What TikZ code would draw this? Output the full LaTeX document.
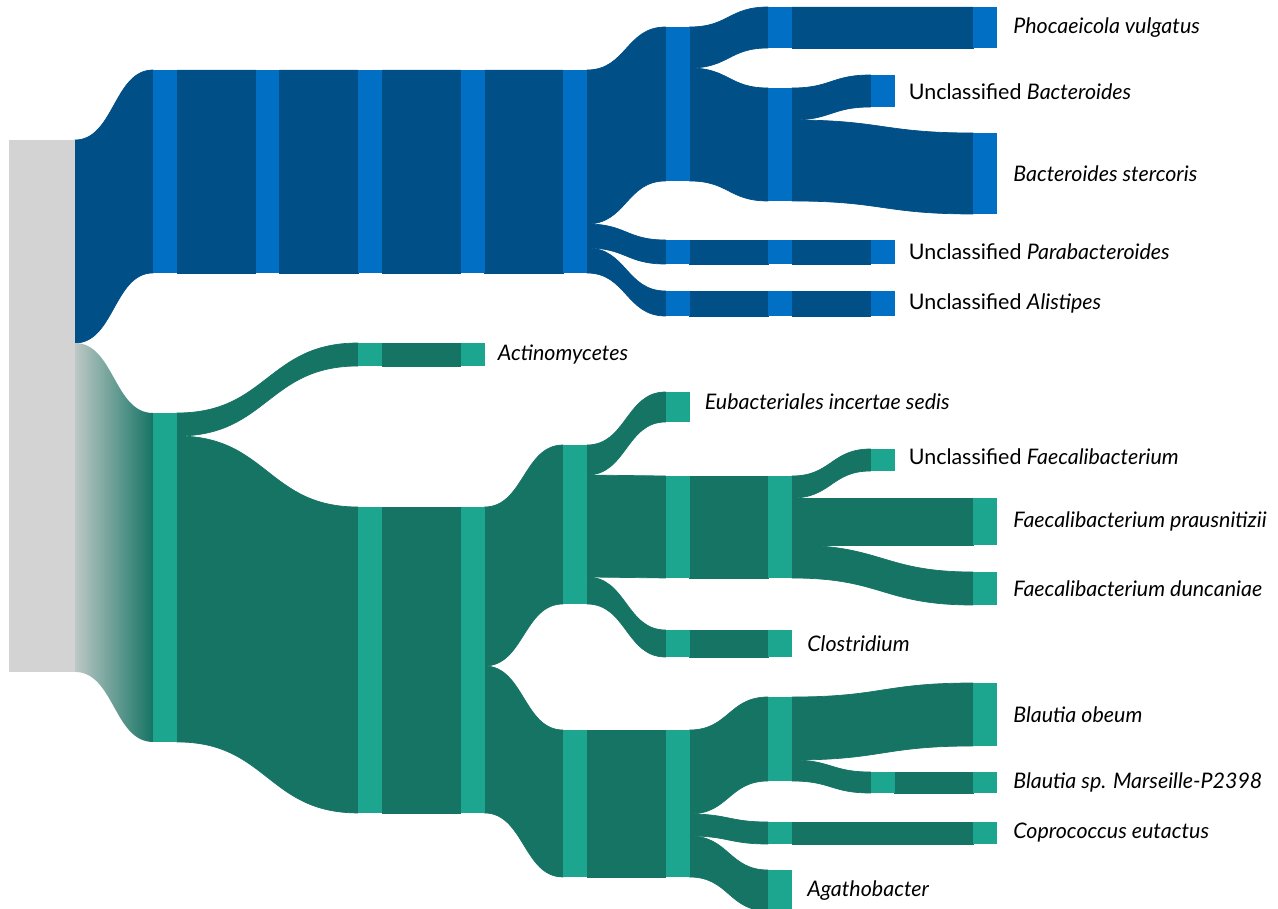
\documentclass[tikz,border=0pt]{standalone}
\usepackage{fontspec}
\setmainfont{Lato}
\usepackage{tikz}
\usetikzlibrary{positioning, calc, backgrounds}
\usepackage{xcolor}
\definecolor{bdark}{HTML}{004F87}
\definecolor{blight}{HTML}{006FC4}
\definecolor{gdark}{HTML}{167464}
\definecolor{glight}{HTML}{1CA58F}
\definecolor{rootgray}{HTML}{D3D3D3}
\tikzset{
  anybar/.style={rectangle, anchor=north west, inner sep=0pt, outer sep=0pt,
                 minimum width=0.48cm},
  bbar/.style={anybar, fill=blight},
  gbar/.style={anybar, fill=glight},
  rootbar/.style={anybar, fill=rootgray, minimum width=1.32cm},
  bflow/.style={fill=bdark, draw=bdark, line width=0.4pt},
  gflow/.style={fill=gdark, draw=gdark, line width=0.4pt},
  fade/.style={left color=gdark!12!rootgray, right color=gdark},
  lbl/.style={anchor=west, inner sep=0pt, text=black,
              font=\fontsize{12.2}{14}\selectfont},
}
% flow ribbon: source node, offset below its top (px), target node
\newcommand{\flow}[4][bflow]{%
  \path[#1] let \p1=($(#2.north east)+(0,#3)$), \p2=(#4.north west),
    \p3=(#4.south west) in
    (\x1,\y1) .. controls ({(\x1+\x2)/2},\y1) and ({(\x1+\x2)/2},\y2) .. (\x2,\y2)
    -- (\x3,\y3) .. controls ({(\x1+\x2)/2},\y3) and ({(\x1+\x2)/2},{\y1-(\y2-\y3)})
    .. (\x1,{\y1-(\y2-\y3)}) -- cycle;}

\begin{document}
\begin{tikzpicture}[x=0.02cm, y=-0.02cm]
  \useasboundingbox (0,0) rectangle (1278,909);

  % root
  \node[rootbar, minimum height=10.64cm] (root) at (9,140) {};

  % Bacteroidota branch
  \node[bbar, minimum height=4.06cm] (b1) at (153,70) {};
  \node[bbar, minimum height=4.06cm] (b2) at (255.5,70) {};
  \node[bbar, minimum height=4.06cm] (b3) at (358,70) {};
  \node[bbar, minimum height=4.06cm] (b4) at (460.5,70) {};
  \node[bbar, minimum height=4.06cm] (b5) at (563,70) {};
  \node[bbar, minimum height=3.08cm] (bac6) at (665.5,27) {};
  \node[bbar, minimum height=0.48cm] (par6) at (665.5,240) {};
  \node[bbar, minimum height=0.50cm] (ali6) at (665.5,291) {};
  \node[bbar, minimum height=0.82cm] (pho7) at (768,7) {};
  \node[bbar, minimum height=2.26cm] (bac7) at (768,88) {};
  \node[bbar, minimum height=0.48cm] (par7) at (768,240) {};
  \node[bbar, minimum height=0.50cm] (ali7) at (768,291) {};
  \node[bbar, minimum height=0.64cm] (ubac8) at (870.5,75) {};
  \node[bbar, minimum height=0.48cm] (par8) at (870.5,240) {};
  \node[bbar, minimum height=0.50cm] (ali8) at (870.5,291) {};
  \node[bbar, minimum height=0.82cm] (pho9) at (973,7) {};
  \node[bbar, minimum height=1.62cm] (ste9) at (973,133) {};

  % Bacillota / Actinomycetota branch
  \node[gbar, minimum height=6.58cm] (g1) at (153,413) {};
  \node[gbar, minimum height=0.46cm] (act3) at (358,343) {};
  \node[gbar, minimum height=0.46cm] (act4) at (460.5,343) {};
  \node[gbar, minimum height=6.12cm] (g3) at (358,507) {};
  \node[gbar, minimum height=6.12cm] (g4) at (460.5,507) {};
  \node[gbar, minimum height=3.18cm] (cla5) at (563,445) {};
  \node[gbar, minimum height=2.94cm] (lac5) at (563,730) {};
  \node[gbar, minimum height=0.60cm] (eub6) at (665.5,392) {};
  \node[gbar, minimum height=2.04cm] (fae6) at (665.5,476) {};
  \node[gbar, minimum height=0.54cm] (clo6) at (665.5,630) {};
  \node[gbar, minimum height=2.94cm] (lac6) at (665.5,730) {};
  \node[gbar, minimum height=2.04cm] (fae7) at (768,476) {};
  \node[gbar, minimum height=0.54cm] (clo7) at (768,630) {};
  \node[gbar, minimum height=1.68cm] (bla7) at (768,697) {};
  \node[gbar, minimum height=0.44cm] (cop7) at (768,822) {};
  \node[gbar, minimum height=0.82cm] (aga7) at (768,870) {};
  \node[gbar, minimum height=0.44cm] (ufa8) at (870.5,449) {};
  \node[gbar, minimum height=0.42cm] (bsp8) at (870.5,772) {};
  \node[gbar, minimum height=0.94cm] (fpr9) at (973,498) {};
  \node[gbar, minimum height=0.66cm] (fdu9) at (973,572) {};
  \node[gbar, minimum height=1.26cm] (obe9) at (973,683) {};
  \node[gbar, minimum height=0.42cm] (bsp9) at (973,772) {};
  \node[gbar, minimum height=0.44cm] (cop9) at (973,822) {};

  \begin{scope}[on background layer]
    \flow{root}{0}{b1}
    \flow[fade]{root}{203}{g1}
    \flow{b1}{0}{b2} \flow{b2}{0}{b3} \flow{b3}{0}{b4} \flow{b4}{0}{b5}
    \flow{b5}{0}{bac6} \flow{b5}{154}{par6} \flow{b5}{178}{ali6}
    \flow{bac6}{0}{pho7} \flow{bac6}{41}{bac7}
    \flow{par6}{0}{par7} \flow{ali6}{0}{ali7}
    \flow{bac7}{0}{ubac8} \flow{bac7}{32}{ste9}
    \flow{pho7}{0}{pho9}
    \flow{par7}{0}{par8} \flow{ali7}{0}{ali8}
    \flow[gflow]{g1}{0}{act3} \flow[gflow]{g1}{23}{g3}
    \flow[gflow]{act3}{0}{act4} \flow[gflow]{g3}{0}{g4}
    \flow[gflow]{g4}{0}{cla5} \flow[gflow]{g4}{159}{lac5}
    \flow[gflow]{cla5}{0}{eub6} \flow[gflow]{cla5}{30}{fae6}
    \flow[gflow]{cla5}{132}{clo6}
    \flow[gflow]{fae6}{0}{fae7} \flow[gflow]{clo6}{0}{clo7}
    \flow[gflow]{fae7}{0}{ufa8} \flow[gflow]{fae7}{22}{fpr9}
    \flow[gflow]{fae7}{69}{fdu9}
    \flow[gflow]{lac5}{0}{lac6}
    \flow[gflow]{lac6}{0}{bla7} \flow[gflow]{lac6}{84}{cop7}
    \flow[gflow]{lac6}{106}{aga7}
    \flow[gflow]{bla7}{0}{obe9} \flow[gflow]{bla7}{63}{bsp8}
    \flow[gflow]{bsp8}{0}{bsp9} \flow[gflow]{cop7}{0}{cop9}
  \end{scope}

  % labels
  \node[lbl, right=0.32cm of pho9] (lpho) {\textit{Phocaeicola vulgatus}};
  \node[lbl, right=0.28cm of ubac8, yshift=-0.02cm] (lubac) {Unclassified \textit{Bacteroides}};
  \node[lbl, right=0.32cm of ste9] (lste) {\textit{Bacteroides stercoris}};
  \node[lbl, right=0.28cm of par8] (lpar) {Unclassified \textit{Parabacteroides}};
  \node[lbl, right=0.28cm of ali8] (lali) {Unclassified \textit{Alistipes}};
  \node[lbl, right=0.26cm of act4] (lact) {\textit{Actinomycetes}};
  \node[lbl, right=0.30cm of eub6, yshift=0.1cm] (leub) {\textit{Eubacteriales incertae sedis}};
  \node[lbl, right=0.28cm of ufa8, yshift=0.06cm] (lufa) {Unclassified \textit{Faecalibacterium}};
  \node[lbl, right=0.32cm of fpr9] (lfpr) {\textit{Faecalibacterium prausnitizii}};
  \node[lbl, right=0.32cm of fdu9] (lfdu) {\textit{Faecalibacterium duncaniae}};
  \node[lbl, right=0.30cm of clo7] (lclo) {\textit{Clostridium}};
  \node[lbl, right=0.32cm of obe9] (lobe) {\textit{Blautia obeum}};
  \node[lbl, right=0.32cm of bsp9] (lbsp) {\textit{Blautia sp. Marseille-P2398}};
  \node[lbl, right=0.32cm of cop9] (lcop) {\textit{Coprococcus eutactus}};
  \node[lbl, right=0.30cm of aga7] (laga) {\textit{Agathobacter}};
\end{tikzpicture}
\end{document}
